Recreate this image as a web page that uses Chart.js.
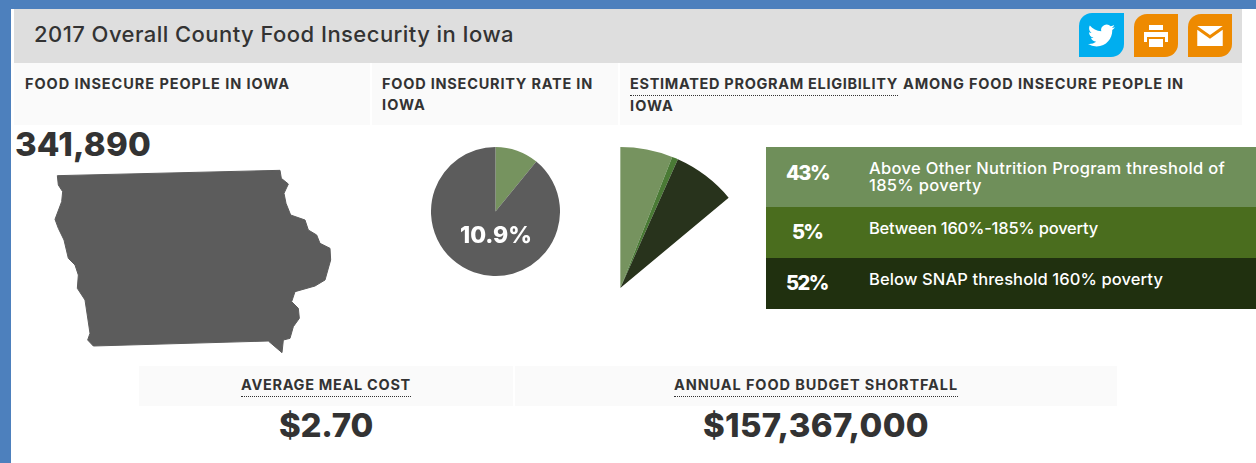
<!DOCTYPE html>
<html><head><meta charset="utf-8">
<script src="https://cdn.jsdelivr.net/npm/chart.js@4/dist/chart.umd.min.js"></script>
<style>
html,body{margin:0;padding:0;background:#fff;width:1256px;height:463px;overflow:hidden;font-family:Inter,sans-serif;color:#333}
.a{position:absolute;white-space:nowrap}
canvas{position:absolute}
.h{font-weight:700;font-size:14.5px;line-height:20px;color:#333}
.u{border-bottom:1px dotted #333;padding-bottom:1px}
.n{font-weight:800;color:#333;font-size:33px;line-height:38px}
.pct{color:#fff;font-weight:800;font-size:20px;line-height:24px}
.lab{color:#fff;font-size:16.5px;font-weight:500;line-height:17px}
.band{position:absolute}
.ic{position:absolute;border-radius:13px 0 13px 0;display:flex;align-items:center;justify-content:center}
</style></head><body>
<div class="band" style="left:0;top:0;width:1256px;height:9px;background:#4D80BD"></div>
<div class="band" style="left:0;top:0;width:11px;height:463px;background:#4D80BD"></div>
<div class="band" style="left:14px;top:9px;width:1228px;height:54px;background:#DEDEDE"></div>
<div class="band" style="left:14px;top:63px;width:356px;height:62px;background:#FAFAFA"></div>
<div class="band" style="left:372px;top:63px;width:246px;height:62px;background:#FAFAFA"></div>
<div class="band" style="left:620px;top:63px;width:622px;height:62px;background:#FAFAFA"></div>
<div class="band" style="left:139px;top:366px;width:374px;height:40px;background:#FAFAFA"></div>
<div class="band" style="left:515px;top:366px;width:602px;height:40px;background:#FAFAFA"></div>

<div class="a" data-w="480" style="left:34px;top:21px;font-size:22px;line-height:26px;font-weight:500;color:#333">2017 Overall County Food Insecurity in Iowa</div>
<div class="ic" style="left:1079px;top:13px;width:45px;height:44px;background:#00AEEF"><svg width="27" height="27" viewBox="0 0 24 24"><path fill="#fff" d="M23.953 4.57a10 10 0 01-2.825.775 4.958 4.958 0 002.163-2.723c-.951.555-2.005.959-3.127 1.184a4.92 4.92 0 00-8.384 4.482C7.69 8.095 4.067 6.13 1.64 3.162a4.822 4.822 0 00-.666 2.475c0 1.71.87 3.213 2.188 4.096a4.904 4.904 0 01-2.228-.616v.06a4.923 4.923 0 003.946 4.827 4.996 4.996 0 01-2.212.085 4.936 4.936 0 004.604 3.417 9.867 9.867 0 01-6.102 2.105c-.39 0-.779-.023-1.17-.067a13.995 13.995 0 007.557 2.209c9.053 0 13.998-7.496 13.998-13.985 0-.21 0-.42-.015-.63A9.935 9.935 0 0024 4.59z"/></svg></div>
<div class="ic" style="left:1134px;top:14px;width:44px;height:43px;background:#EE8A00"><svg width="26" height="26" viewBox="0 0 26 26"><path fill="#fff" d="M6 2h14v5H6zM1 9h24v10h-3v-5H4v5H1zM6 16h14v8H6z"/></svg></div>
<div class="ic" style="left:1188px;top:14px;width:44px;height:43px;background:#EE8A00"><svg width="26" height="20" viewBox="0 0 28 22"><path fill="#fff" d="M0 0h28L14 10zM0 4l14 10L28 4v18H0z"/></svg></div>

<div class="a h" data-w="265" style="left:25px;top:74px">FOOD INSECURE PEOPLE IN IOWA</div>
<div class="a h" data-w="211" style="left:382px;top:74px">FOOD INSECURITY RATE IN</div>
<div class="a h" data-w="44" style="left:382px;top:95px">IOWA</div>
<div class="a h u" data-w="268" style="left:630px;top:74px">ESTIMATED PROGRAM ELIGIBILITY</div>
<div class="a h" data-w="281" style="left:903px;top:74px">AMONG FOOD INSECURE PEOPLE IN</div>
<div class="a h" data-w="44" style="left:630px;top:96px">IOWA</div>

<div class="a n" data-w="136" style="left:15px;top:125px">341,890</div>
<svg class="a" style="left:40px;top:160px" width="300" height="200" viewBox="0 0 900 600"><path fill="#5C5C5C" stroke="#5C5C5C" stroke-width="3" stroke-linejoin="round" d="M52 47L720 31L724 55L745 72L732 100L738 130L752 165L795 180L805 210L830 225L840 250L870 265L872 300L855 360L825 378L765 395L755 425L775 445L778 475L760 500L750 535L730 540L726 578L685 543L160 558L143 540L150 520L135 420L112 385L115 345L105 315L85 295L72 240L55 205L45 178L65 125L68 95L55 75Z"/></svg>

<canvas id="rate" style="left:431px;top:147px" width="129" height="129"></canvas>
<div class="a" data-w="72" style="left:460px;top:221px;color:#fff;font-weight:800;font-size:23px;line-height:28px">10.9%</div>
<canvas id="elig" style="left:620px;top:147px" width="109" height="141"></canvas>

<div class="band" style="left:766px;top:147px;width:490px;height:60px;background:#6F8F5A"></div>
<div class="band" style="left:766px;top:207px;width:490px;height:51px;background:#4A6D1E"></div>
<div class="band" style="left:766px;top:258px;width:490px;height:51px;background:#20300F"></div>
<div class="a pct" data-w="43" style="left:786px;top:161px">43%</div>
<div class="a pct" data-w="30" style="left:792px;top:220px">5%</div>
<div class="a pct" data-w="42" style="left:786px;top:271px">52%</div>
<div class="a lab" data-w="356" data-n="42" style="left:869px;top:160px">Above Other Nutrition Program threshold of<br>185% poverty</div>
<div class="a lab" data-w="229" style="left:869px;top:220px">Between 160%-185% poverty</div>
<div class="a lab" data-w="294" style="left:869px;top:271px">Below SNAP threshold 160% poverty</div>

<div class="a h u" data-w="170" style="left:241px;top:375px">AVERAGE MEAL COST</div>
<div class="a h u" data-w="284" style="left:674px;top:375px">ANNUAL FOOD BUDGET SHORTFALL</div>
<div class="a n" data-w="94" style="left:279px;top:406px">$2.70</div>
<div class="a n" data-w="226" style="left:703px;top:406px">$157,367,000</div>
<script>
const rateLabels=['Food insecure','Other'];
const rateValues=[10.9,89.1];
const rateColors=['#76935F','#5C5C5C'];
const eligLabels=['Above Other Nutrition Program threshold of 185% poverty','Between 160%-185% poverty','Below SNAP threshold 160% poverty'];
const eligValues=[43,5,52];
const eligColors=['#76935F','#4A7A35','#28331C'];
const eligSweep=50.2;
const common={responsive:false,animation:false,plugins:{legend:{display:false},tooltip:{enabled:false}}};
new Chart(document.getElementById('rate'),{type:'pie',data:{labels:rateLabels,datasets:[{data:rateValues,backgroundColor:rateColors,borderWidth:0}]},options:{...common}});
new Chart(document.getElementById('elig'),{type:'pie',data:{labels:eligLabels,datasets:[{data:eligValues,backgroundColor:eligColors,borderWidth:0,clip:false}]},options:{...common,circumference:eligSweep}});
document.querySelectorAll('[data-w]').forEach(el=>{
  const target=+el.dataset.w, w=el.getBoundingClientRect().width, n=+(el.dataset.n||el.textContent.length);
  el.style.letterSpacing=((target-w)/n).toFixed(3)+'px';
});
</script>
</body></html>
